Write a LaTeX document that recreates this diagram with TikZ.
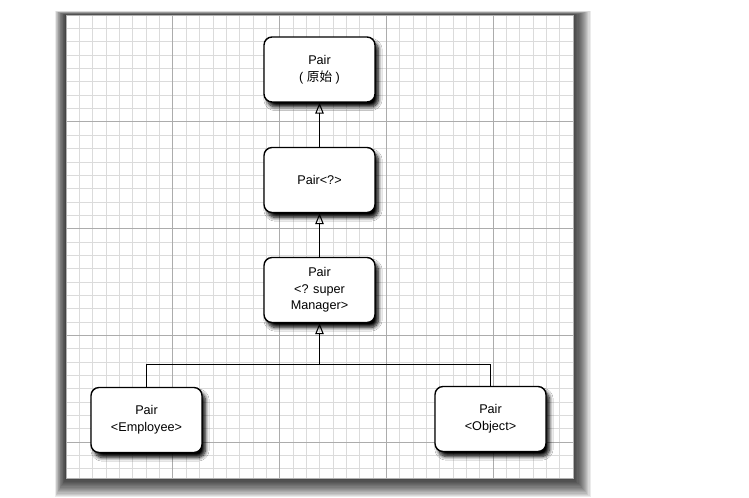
\documentclass[tikz,border=0pt]{standalone}
\usepackage{fontspec}
\setmainfont{Liberation Sans}
\newfontfamily\cjk{Noto Sans CJK SC}
\usetikzlibrary{arrows.meta,shadows.blur}
\begin{document}
\begin{tikzpicture}[x=0.02cm,y=-0.02cm,
  box/.style={draw, line width=0.8pt, rounded corners=0.16cm, fill=white,
    minimum width=2.22cm, minimum height=1.3cm, align=center,
    font=\fontsize{7.2}{9.5}\selectfont,
    blur shadow={shadow xshift=0.07cm, shadow yshift=-0.1cm, shadow blur steps=8, shadow blur radius=0.4ex, shadow opacity=100}},
  fine/.style={gray!28, line width=0.3pt},
  major/.style={gray!65, line width=0.5pt},
  isa/.style={-{Triangle[open, length=0.22cm, width=0.17cm]}, line width=0.6pt}]
\useasboundingbox (0,0) rectangle (749,497);

\foreach \k in {1,...,16}
  \fill[black, opacity=0.08] ({66-0.7*\k},{15-0.25*\k}) rectangle ({573+1.1*\k},{478+1.2*\k});
\fill[white] (66,15) rectangle (573,478);
\foreach \i in {1,...,37} \draw[fine] ({66+\i*13.342},15) -- ++(0,463);
\foreach \j in {1,...,34} \draw[fine] (66,{15+\j*13.342}) -- ++(507,0);
\foreach \i in {1,...,4} \draw[major] ({66+\i*106.74},15) -- ++(0,463);
\foreach \j in {1,...,4} \draw[major] (66,{15+\j*106.74}) -- ++(507,0);
\draw[gray!60, line width=0.5pt] (66,15) rectangle (573,478);

\node[box] (raw) at (319.5,69.5) {Pair\\( {\cjk 原始} )};
\node[box] (any) at (319.5,180) {Pair<?>};
\node[box] (sup) at (319.5,290) {Pair\\<? super\\Manager>};
\node[box] (emp) at (146.5,420) {Pair\\<Employee>};
\node[box] (obj) at (490.5,419) {Pair\\<Object>};
\coordinate (fork) at (319.5,364.5);

\draw[isa] (any) -- (raw);
\draw[isa] (sup) -- (any);
\draw[isa] (fork) -- (sup);
\draw[line width=0.6pt] (emp) |- (fork) -| (obj);
\end{tikzpicture}
\end{document}
